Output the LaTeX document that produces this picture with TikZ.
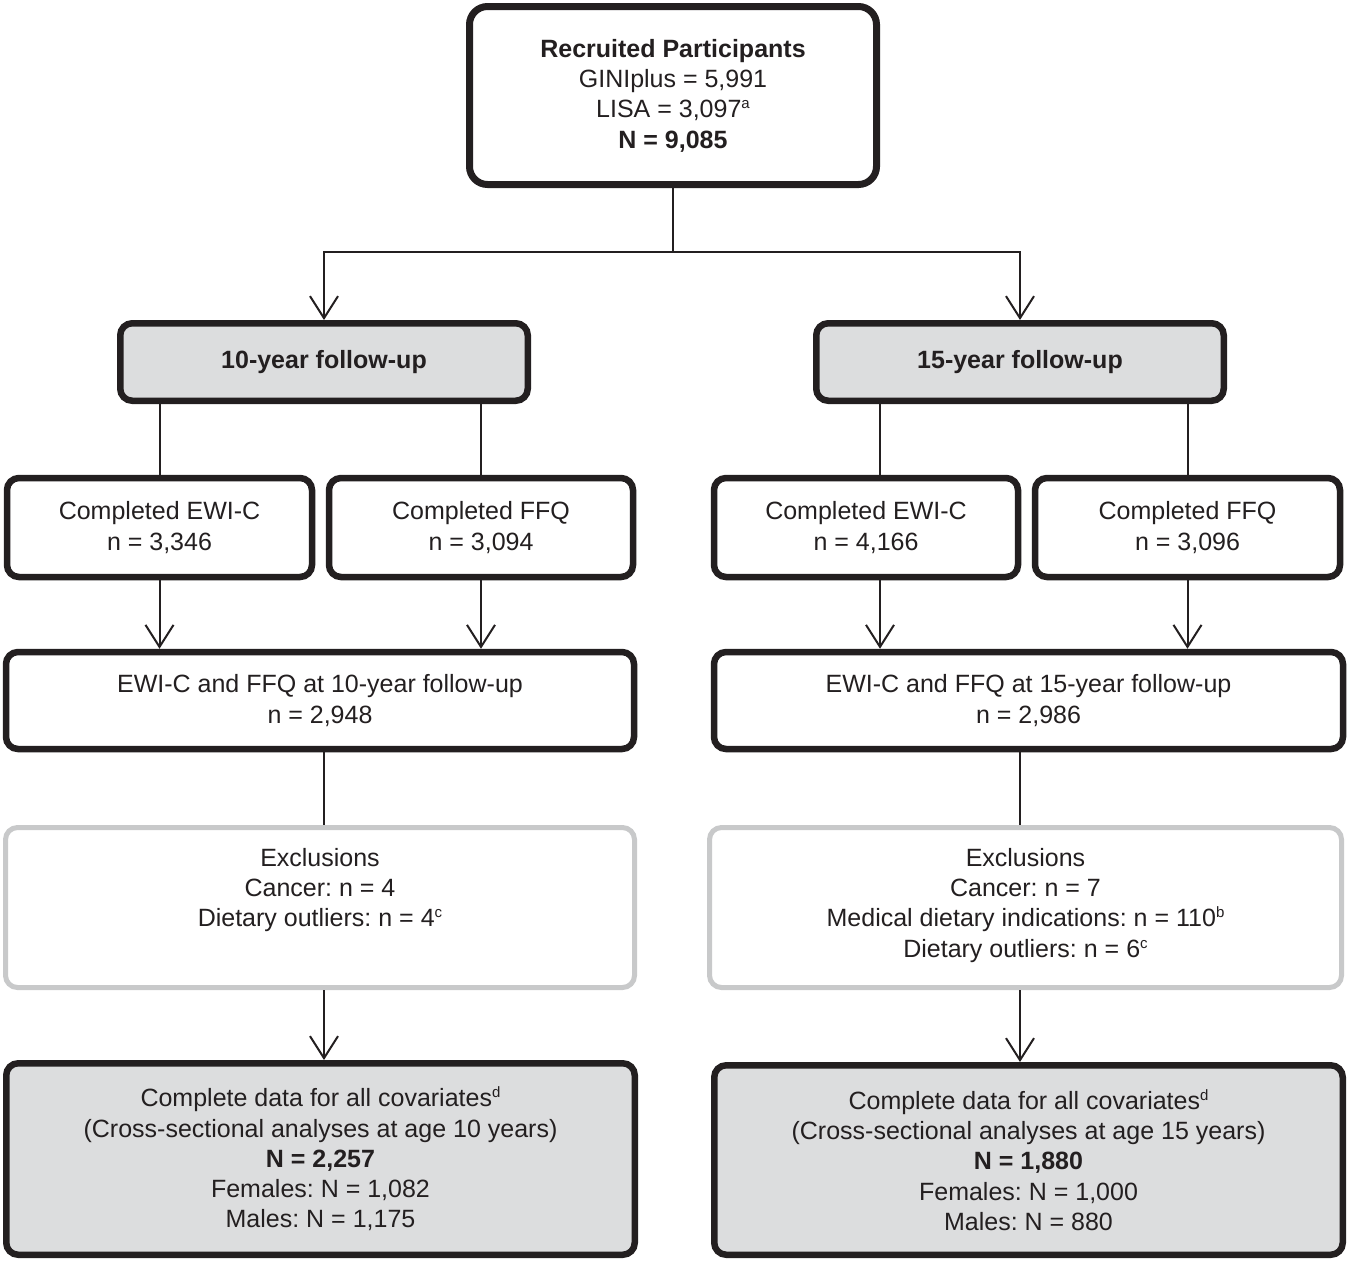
\documentclass[tikz,border=0pt]{standalone}
\usepackage{fontspec}
\setmainfont{Liberation Sans}
\usetikzlibrary{arrows.meta,calc}
\definecolor{ink}{HTML}{231F20}
\definecolor{boxgray}{HTML}{DCDDDE}
\definecolor{exclgray}{HTML}{C8C9CA}
\newcommand{\sups}[1]{\raisebox{9pt}{\fontsize{15}{15}\selectfont #1}}
\frenchspacing
\begin{document}
\begin{tikzpicture}[x=1pt,y=-1pt,
  txt/.style={align=center, inner sep=0pt, text=ink, font=\frenchspacing\fontsize{25}{30.3}\selectfont},
  box/.style={txt, draw=ink, line width=6.5pt, rounded corners=12pt, fill=white},
  graybox/.style={box, fill=boxgray},
  exclbox/.style={box, draw=exclgray, line width=5pt},
  headbox/.style={graybox, font=\bfseries\fontsize{25}{30.3}\selectfont},
  conn/.style={draw=ink, line width=2pt},
  arr/.style={conn, -{Straight Barb[length=22pt,width=28pt,line width=2pt]}}]
\useasboundingbox (0,0) rectangle (1350,1262);

% boxes
\node[box, line width=7pt, rounded corners=18pt, minimum width=407pt, minimum height=178pt] (top) at (673,95.5)
  {{\bfseries Recruited Participants}\\GINIplus = 5,991\\LISA = 3,097\sups{a}\\{\bfseries N = 9,085}};

\node[headbox, minimum width=407.5pt, minimum height=77.5pt] (ten) at (324,362) {10-year follow-up};
\node[headbox, minimum width=407.5pt, minimum height=77.5pt] (fifteen) at (1020,362) {15-year follow-up};

\node[box, minimum width=305pt, minimum height=99pt] (ewiL) at (159.5,527.5) {Completed EWI-C\\n = 3,346};
\node[box, minimum width=304pt, minimum height=99pt] (ffqL) at (481,527.5) {Completed FFQ\\n = 3,094};
\node[box, minimum width=304pt, minimum height=99pt] (ewiR) at (866,527.5) {Completed EWI-C\\n = 4,166};
\node[box, minimum width=305pt, minimum height=99pt] (ffqR) at (1187.5,527.5) {Completed FFQ\\n = 3,096};

\node[box, minimum width=628pt, minimum height=97pt] (combL) at (320,700.5) {EWI-C and FFQ at 10-year follow-up\\n = 2,948};
\node[box, minimum width=629pt, minimum height=97pt] (combR) at (1028.5,700.5) {EWI-C and FFQ at 15-year follow-up\\n = 2,986};

\node[exclbox, minimum width=629pt, minimum height=160pt] (exclL) at (320,907.5) {};
\node[exclbox, minimum width=632pt, minimum height=160pt] (exclR) at (1025.5,907.5) {};
\node[txt, anchor=north] (exclLt) at ($(exclL.north)+(0,23)$)
  {Exclusions\\Cancer: n = 4\\Dietary outliers: n = 4\sups{c}};
\node[txt, anchor=north] (exclRt) at ($(exclR.north)+(0,23)$)
  {Exclusions\\Cancer: n = 7\\Medical dietary indications: n = 110\sups{b}\\Dietary outliers: n = 6\sups{c}};

\node[graybox, minimum width=628.5pt, minimum height=191.5pt] (finL) at (320.5,1159)
  {Complete data for all covariates\sups{d}\\(Cross-sectional analyses at age 10 years)\\{\bfseries N = 2,257}\\Females: N = 1,082\\Males: N = 1,175};
\node[graybox, minimum width=628.5pt, minimum height=189.5pt] (finR) at (1028.5,1160)
  {Complete data for all covariates\sups{d}\\(Cross-sectional analyses at age 15 years)\\{\bfseries N = 1,880}\\Females: N = 1,000\\Males: N = 880};

% connectors
\coordinate (split) at (673,252);
\coordinate (xR1) at (880,0);
\draw[conn] (top.south) -- (split);
\draw[arr] (split) -| (ten.north);
\draw[arr] (split) -| (fifteen.north);

\draw[conn] (ten.south -| ewiL.north) -- (ewiL.north);
\draw[conn] (ten.south -| ffqL.north) -- (ffqL.north);
\draw[conn] (fifteen.south -| xR1) -- (ewiR.north -| xR1);
\draw[conn] (fifteen.south -| ffqR.north) -- (ffqR.north);

\draw[arr] (ewiL.south) -- (ewiL.south |- combL.north);
\draw[arr] (ffqL.south) -- (ffqL.south |- combL.north);
\draw[arr] (ewiR.south -| xR1) -- (combR.north -| xR1);
\draw[arr] (ffqR.south) -- (ffqR.south |- combR.north);

\draw[conn] (combL.south -| ten.south) -- (exclL.north -| ten.south);
\draw[conn] (combR.south -| fifteen.south) -- (exclR.north -| fifteen.south);
\draw[arr] (exclL.south -| ten.south) -- (finL.north -| ten.south);
\draw[arr] (exclR.south -| fifteen.south) -- (finR.north -| fifteen.south);
\end{tikzpicture}
\end{document}
